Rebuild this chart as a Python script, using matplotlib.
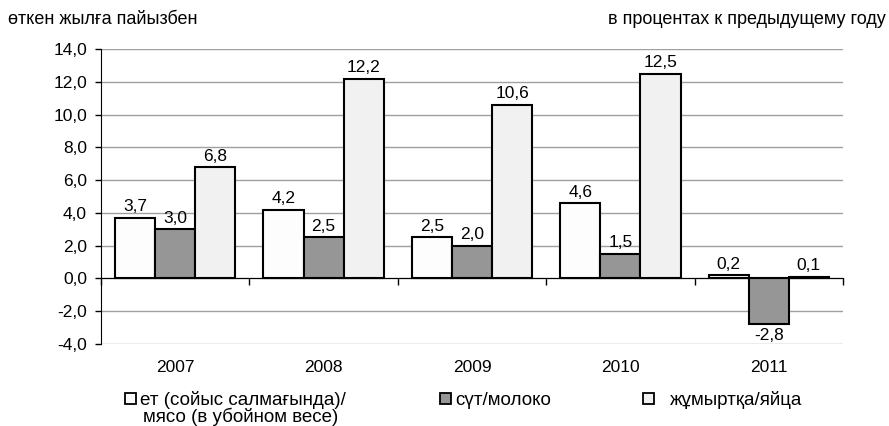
import matplotlib
matplotlib.use("Agg")
import matplotlib.pyplot as plt
import matplotlib.transforms as mtransforms
from matplotlib.patches import Rectangle
import numpy as np

plt.rcParams['font.family'] = ['Liberation Sans', 'DejaVu Sans']

years = ["2007", "2008", "2009", "2010", "2011"]
series_names = [["ет (сойыс салмағында)/", "мясо (в убойном весе)"], ["сүт/молоко"], ["жұмыртқа/яйца"]]
meat = [3.7, 4.2, 2.5, 4.6, 0.2]
milk = [3.0, 2.5, 2.0, 1.5, -2.8]
eggs = [6.8, 12.2, 10.6, 12.5, 0.1]
yticks = [-4.0, -2.0, 0.0, 2.0, 4.0, 6.0, 8.0, 10.0, 12.0, 14.0]
colors = ["#FDFDFD", "#969696", "#F1F1F1"]

FS = 12.5
W, H = 889, 426
fig = plt.figure(figsize=(W / 100, H / 100), dpi=100)
ax_l, ax_r, ax_t, ax_b = 101, 843, 49, 344
ax = fig.add_axes([ax_l / W, (H - ax_b) / H, (ax_r - ax_l) / W, (ax_b - ax_t) / H])

x = np.arange(len(years))
bw = 0.27
fmt = lambda v: f"{v:.1f}".replace(".", ",")
for k, (vals, c) in enumerate(zip([meat, milk, eggs], colors)):
    bars = ax.bar(x + (k - 1) * bw, vals, width=bw, color=c, edgecolor="black",
                  linewidth=1.5, zorder=3)
    ax.bar_label(bars, labels=[fmt(v) for v in vals], padding=2.5, fontsize=FS, zorder=4)

ax.set_xlim(-0.5, len(years) - 0.5)
ax.set_ylim(yticks[0], yticks[-1])
ax.set_yticks(yticks)
ax.set_yticklabels([fmt(v) for v in yticks], fontsize=FS)
ax.yaxis.grid(True, color="#A0A0A0", linewidth=1, zorder=0)
ax.tick_params(axis="y", length=4, width=1, direction="out", pad=6)

for s in ["top", "right"]:
    ax.spines[s].set_visible(False)
ax.spines["left"].set_color("black")
ax.spines["bottom"].set_position(("data", 0))
ax.spines["bottom"].set_color("black")
ax.spines["bottom"].set_zorder(5)
ax.set_xticks(np.arange(len(years) + 1) - 0.5)
ax.set_xticklabels([])
ax.tick_params(axis="x", length=5, width=1, direction="out")

trans = mtransforms.blended_transform_factory(ax.transData, ax.transAxes)
for i, yr in enumerate(years):
    ax.text(i, -23 / 295, yr, transform=trans, ha="center", va="center", fontsize=FS)

# header texts
fig.text(8 / W, 1 - 20 / H, "өткен жылға пайызбен", ha="left", va="center", fontsize=13)
fig.text(886 / W, 1 - 20 / H, "в процентах к предыдущему году", ha="right", va="center", fontsize=13)

# legend
LFS = 13.5
leg = [(125, 140), (440, 455), (643, 670)]
base1, step = 405, 17
for (mx, tx), lines, c in zip(leg, series_names, colors):
    fig.patches.append(Rectangle((mx / W, 1 - 404 / H), 10.5 / W, 11 / H,
                                 transform=fig.transFigure, facecolor=c,
                                 edgecolor="black", linewidth=1.3))
    for j, line in enumerate(lines):
        fig.text((tx + 3 * j) / W, 1 - (base1 + step * j) / H, line,
                 ha="left", va="baseline", fontsize=LFS)

fig.savefig("out.png", dpi=100)
